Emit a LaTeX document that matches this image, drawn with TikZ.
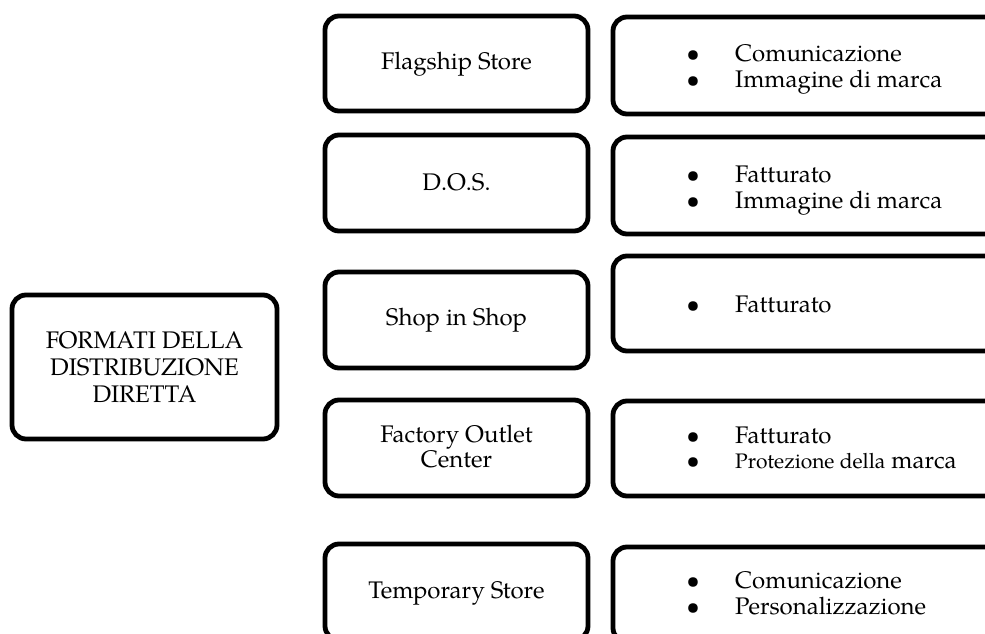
\documentclass[tikz,border=0pt]{standalone}
\usepackage{fontspec}
\setmainfont{TeX Gyre Pagella}
\tikzset{
  box/.style={draw=black, line width=4.8pt, rounded corners=14pt, fill=white, inner sep=0pt},
  txt/.style={inner sep=0pt, font=\fontsize{24}{27}\selectfont, text=black},
  item/.style={txt, anchor=base west},
}
\newcommand{\bul}{\makebox[84pt][c]{\textbullet}}
\begin{document}
\begin{tikzpicture}[x=1pt,y=-1pt]
\useasboundingbox (0,0) rectangle (985,634);
\clip (0,0) rectangle (985,634);
\fill[white] (0,0) rectangle (985,634);

% left box
\node[box, minimum width=265pt, minimum height=144pt] (main) at (144.5,367) {};
\node[txt, align=center] (maintxt) at (main.center) {FORMATI DELLA\\DISTRIBUZIONE\\DIRETTA};

% middle column
\node[box, minimum width=263pt, minimum height=95pt] (m1) at (456.5,63.5) {};
\node[box, minimum width=263pt, minimum height=96pt] (m2) at (456.5,183) {};
\node[box, minimum width=263pt, minimum height=96pt] (m3) at (456.5,320) {};
\node[box, minimum width=263pt, minimum height=96pt] (m4) at (456.5,448) {};
\node[box, minimum width=263pt, minimum height=96pt] (m5) at (456.5,592) {};

\node[txt, anchor=base] (t1) at (456.5,70) {Flagship Store};
\node[txt, anchor=base] (t2) at (456.5,190) {D.O.S.};
\node[txt, anchor=base] (t3) at (456.5,325) {Shop in Shop};
\node[txt, anchor=base] (t4a) at (456.5,442) {Factory Outlet};
\node[txt, anchor=base] (t4b) at (456.5,467) {Center};
\node[txt, anchor=base] (t5) at (456.5,598) {Temporary Store};

% right column
\node[box, minimum width=400pt, minimum height=97pt] (r1) at (813,65.5) {};
\node[box, minimum width=400pt, minimum height=97pt] (r2) at (813,185.5) {};
\node[box, minimum width=400pt, minimum height=95pt] (r3) at (813,303.5) {};
\node[box, minimum width=400pt, minimum height=95pt] (r4) at (813,448.5) {};
\node[box, minimum width=400pt, minimum height=95pt] (r5) at (813,594.5) {};

\node[item] (r1a) at (651,62) {\bul Comunicazione};
\node[item] (r1b) at (651,88) {\bul Immagine di marca};
\node[item] (r2a) at (651,182) {\bul Fatturato};
\node[item] (r2b) at (651,208) {\bul Immagine di marca};
\node[item] (r3a) at (651,312) {\bul Fatturato};
\node[item] (r4a) at (651,443) {\bul Fatturato};
\node[item] (r4b) at (651,468) {\bul{\fontsize{21}{24}\selectfont Protezione della} marca};
\node[item] (r5a) at (651,588) {\bul Comunicazione};
\node[item] (r5b) at (651,614) {\bul Personalizzazione};
\end{tikzpicture}
\end{document}
